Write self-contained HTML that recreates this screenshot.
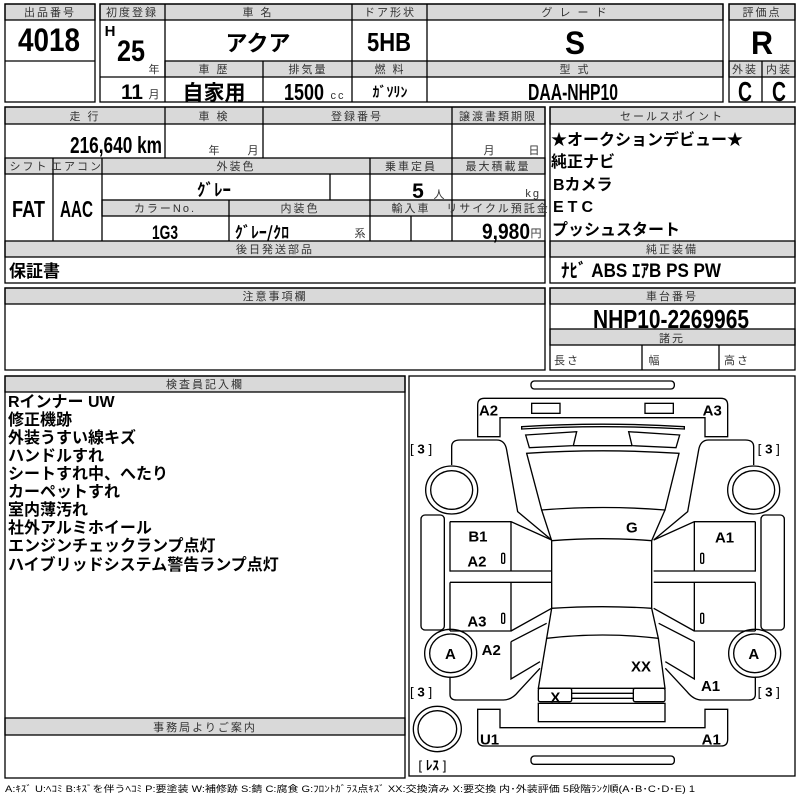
<!DOCTYPE html>
<html><head><meta charset="utf-8"><style>
html,body{margin:0;padding:0;background:#fff;width:800px;height:800px;overflow:hidden}
svg{display:block}
text{font-family:"Liberation Sans","Noto Sans CJK JP",sans-serif;fill:#000}
.h{font-size:11px;text-anchor:middle;letter-spacing:2px;fill:#333}
.b{font-family:"Liberation Sans Narrow","Liberation Sans","Noto Sans CJK JP",sans-serif;font-weight:bold;text-anchor:middle}
.j{font-family:"Noto Sans CJK JP",sans-serif;font-weight:bold}
.g{fill:#d9d9d9}
</style></head><body>
<svg width="800" height="800" viewBox="0 0 800 800" xmlns="http://www.w3.org/2000/svg">
<g stroke="#000" stroke-width="1.3" fill="none">
<rect class="g" x="5" y="4" width="90" height="16"/>
<rect class="g" x="100" y="4" width="623" height="16"/>
<rect class="g" x="165" y="61" width="558" height="16"/>
<rect class="g" x="729" y="4" width="66" height="16"/>
<rect class="g" x="729" y="61" width="66" height="16"/>
<rect class="g" x="5" y="107" width="540" height="17"/>
<rect class="g" x="5" y="158" width="540" height="16"/>
<rect class="g" x="102" y="200" width="443" height="16"/>
<rect class="g" x="5" y="241" width="540" height="16"/>
<rect class="g" x="550" y="107" width="245" height="17"/>
<rect class="g" x="550" y="241" width="245" height="16"/>
<rect class="g" x="5" y="288" width="540" height="16"/>
<rect class="g" x="550" y="288" width="245" height="16"/>
<rect class="g" x="550" y="329" width="245" height="16"/>
<rect class="g" x="5" y="376" width="400" height="16"/>
<rect class="g" x="5" y="718" width="400" height="17"/>
<rect x="5" y="4" width="90" height="98"/>
<line x1="5" y1="61" x2="95" y2="61"/>
<rect x="100" y="4" width="623" height="98"/>
<line x1="165" y1="4" x2="165" y2="102"/>
<line x1="352" y1="4" x2="352" y2="102"/>
<line x1="427" y1="4" x2="427" y2="102"/>
<line x1="263" y1="61" x2="263" y2="102"/>
<line x1="100" y1="77" x2="165" y2="77"/>
<rect x="729" y="4" width="66" height="98"/>
<line x1="762" y1="61" x2="762" y2="102"/>
<rect x="5" y="107" width="540" height="176"/>
<line x1="165" y1="107" x2="165" y2="158"/>
<line x1="263" y1="107" x2="263" y2="158"/>
<line x1="452" y1="107" x2="452" y2="241"/>
<line x1="53" y1="158" x2="53" y2="241"/>
<line x1="102" y1="158" x2="102" y2="241"/>
<line x1="370" y1="158" x2="370" y2="241"/>
<line x1="330" y1="174" x2="330" y2="200"/>
<line x1="229" y1="200" x2="229" y2="241"/>
<line x1="411" y1="216" x2="411" y2="241"/>
<rect x="550" y="107" width="245" height="176"/>
<rect x="5" y="288" width="540" height="82"/>
<rect x="550" y="288" width="245" height="82"/>
<line x1="642" y1="345" x2="642" y2="370"/>
<line x1="719" y1="345" x2="719" y2="370"/>
<rect x="5" y="376" width="400" height="402"/>
<rect x="409" y="376" width="386" height="400"/>
</g>
<text class="h" x="50" y="16">出品番号</text>
<text class="b" x="18" y="51" font-size="32" style="text-anchor:start" textLength="62" lengthAdjust="spacingAndGlyphs">4018</text>
<text class="h" x="132" y="16" letter-spacing="0">初度登録</text>
<text class="b" x="110" y="36" font-size="15">H</text>
<text class="b" x="117" y="61" font-size="30" style="text-anchor:start" textLength="28" lengthAdjust="spacingAndGlyphs">25</text>
<text class="h" x="155" y="73" letter-spacing="0">年</text>
<text class="b" x="121" y="99" font-size="21" style="text-anchor:start" textLength="22" lengthAdjust="spacingAndGlyphs">11</text>
<text class="h" x="155" y="98" letter-spacing="0">月</text>
<text class="h" x="258" y="16">車 名</text>
<text class="b j" x="258" y="51" font-size="22">アクア</text>
<text class="h" x="390" y="16">ドア形状</text>
<text class="b" x="367" y="51" font-size="26" style="text-anchor:start" textLength="44" lengthAdjust="spacingAndGlyphs">5HB</text>
<text class="h" x="575" y="16">グ レ ー ド</text>
<text class="b" x="575" y="54" font-size="32" textLength="20" lengthAdjust="spacingAndGlyphs">S</text>
<text class="h" x="762" y="16" letter-spacing="0">評価点</text>
<text class="b" x="762" y="54" font-size="32" textLength="22" lengthAdjust="spacingAndGlyphs">R</text>
<text class="h" x="214" y="73">車 歴</text>
<text class="h" x="308" y="73">排気量</text>
<text class="h" x="390" y="73">燃 料</text>
<text class="h" x="575" y="73">型 式</text>
<text class="h" x="745" y="73" letter-spacing="0">外装</text>
<text class="h" x="779" y="73" letter-spacing="0">内装</text>
<text class="b j" x="214" y="100" font-size="21">自家用</text>
<text class="b" x="284" y="100" font-size="23" style="text-anchor:start" textLength="40" lengthAdjust="spacingAndGlyphs">1500</text>
<text class="h" x="338" y="99" letter-spacing="0">cc</text>
<text class="b j" x="390" y="97" font-size="14">ｶﾞｿﾘﾝ</text>
<text class="b" x="528" y="100" font-size="23" style="text-anchor:start" textLength="90" lengthAdjust="spacingAndGlyphs">DAA-NHP10</text>
<text class="b" x="745" y="101" font-size="28" textLength="14" lengthAdjust="spacingAndGlyphs">C</text>
<text class="b" x="779" y="101" font-size="28" textLength="14" lengthAdjust="spacingAndGlyphs">C</text>

<text class="h" x="85" y="120">走 行</text>
<text class="h" x="214" y="120">車 検</text>
<text class="h" x="357" y="120">登録番号</text>
<text class="h" x="498" y="120" letter-spacing="0">譲渡書類期限</text>
<text class="b" x="70" y="153" font-size="23" style="text-anchor:start" textLength="92" lengthAdjust="spacingAndGlyphs">216,640 km</text>
<text class="h" x="215" y="154" letter-spacing="0">年</text>
<text class="h" x="254" y="154" letter-spacing="0">月</text>
<text class="h" x="490" y="154" letter-spacing="0">月</text>
<text class="h" x="535" y="154" letter-spacing="0">日</text>
<text class="h" x="29" y="170" letter-spacing="0" font-size="10">シフト</text>
<text class="h" x="77" y="170" letter-spacing="0" font-size="10">エアコン</text>
<text class="h" x="236" y="170">外装色</text>
<text class="h" x="411" y="170" letter-spacing="0">乗車定員</text>
<text class="h" x="498" y="170" letter-spacing="0">最大積載量</text>
<text class="b j" x="214" y="196" font-size="17">ｸﾞﾚｰ</text>
<text class="b" x="418" y="198" font-size="21">5</text>
<text class="h" x="440" y="198" letter-spacing="0">人</text>
<text class="h" x="541" y="197" letter-spacing="0" style="text-anchor:end">kg</text>
<text class="b" x="12" y="217" font-size="23" style="text-anchor:start" textLength="33" lengthAdjust="spacingAndGlyphs">FAT</text>
<text class="b" x="60" y="217" font-size="23" style="text-anchor:start" textLength="33" lengthAdjust="spacingAndGlyphs">AAC</text>
<text class="h" x="165" y="212" letter-spacing="3">カラーNo.</text>
<text class="h" x="300" y="212">内装色</text>
<text class="h" x="411" y="212">輸入車</text>
<text class="h" x="498" y="212" letter-spacing="0" font-size="10">リサイクル預託金</text>
<text class="b" x="152" y="239" font-size="19" style="text-anchor:start" textLength="26" lengthAdjust="spacingAndGlyphs">1G3</text>
<text class="b j" x="262" y="238" font-size="16">ｸﾞﾚｰ/ｸﾛ</text>
<text class="h" x="361" y="237" letter-spacing="0">系</text>
<text class="b" x="482" y="239" font-size="22" style="text-anchor:start" textLength="48" lengthAdjust="spacingAndGlyphs">9,980</text>
<text class="h" x="537" y="237" letter-spacing="0">円</text>
<text class="h" x="275" y="253">後日発送部品</text>
<text class="j" x="9" y="277" font-size="17">保証書</text>
<text class="h" x="672" y="120" letter-spacing="5">セールスポイント</text>
<g class="j" font-size="16">
<text x="551" y="145">★オークションデビュー★</text>
<text x="551" y="167">純正ナビ</text>
<text x="553" y="190">Bカメラ</text>
<text x="553" y="212" letter-spacing="4">ETC</text>
<text x="552" y="235">プッシュスタート</text>
</g>
<text class="h" x="672" y="253" letter-spacing="5">純正装備</text>
<text class="b" x="561" y="277" font-size="19" style="text-anchor:start" textLength="160" lengthAdjust="spacingAndGlyphs">ﾅﾋﾞ  ABS  ｴｱB  PS  PW</text>
<text class="h" x="275" y="300">注意事項欄</text>
<text class="h" x="672" y="300">車台番号</text>
<text class="b" x="593" y="328" font-size="26" style="text-anchor:start" textLength="156" lengthAdjust="spacingAndGlyphs">NHP10-2269965</text>
<text class="h" x="672" y="342">諸元</text>
<text class="h" x="567" y="364" letter-spacing="0">長さ</text>
<text class="h" x="655" y="364" letter-spacing="0">幅</text>
<text class="h" x="737" y="364" letter-spacing="0">高さ</text>
<text class="h" x="205" y="388">検査員記入欄</text>
<g class="j" font-size="16">
<text x="8" y="407">Rインナー UW</text>
<text x="8" y="425">修正機跡</text>
<text x="8" y="443">外装うすい線キズ</text>
<text x="8" y="461">ハンドルすれ</text>
<text x="8" y="479">シートすれ中、へたり</text>
<text x="8" y="497">カーペットすれ</text>
<text x="8" y="515">室内薄汚れ</text>
<text x="8" y="533">社外アルミホイール</text>
<text x="8" y="551">エンジンチェックランプ点灯</text>
<text x="8" y="570">ハイブリッドシステム警告ランプ点灯</text>
</g>
<text class="h" x="205" y="731" letter-spacing="5">事務局よりご案内</text>
<text x="5" y="792" font-size="9" textLength="690" lengthAdjust="spacingAndGlyphs" fill="#333">A:ｷｽﾞ U:ﾍｺﾐ B:ｷｽﾞを伴うﾍｺﾐ P:要塗装 W:補修跡 S:錆 C:腐食 G:ﾌﾛﾝﾄｶﾞﾗｽ点ｷｽﾞ XX:交換済み X:要交換  内･外装評価  5段階ﾗﾝｸ順(A･B･C･D･E) 1</text>

<g transform="translate(405,375) scale(0.33333)">
<g stroke="#000" stroke-width="4" fill="none">
<rect x="378" y="18" width="430" height="24" rx="10"/>
<rect x="378" y="1143" width="430" height="25" rx="10"/>
<path d="M218 185 V90 Q218 70 238 70 H948 Q968 70 968 90 V185 H900 V128 H285 V185 Z"/>
<rect x="380" y="85" width="85" height="30"/>
<rect x="720" y="85" width="85" height="30"/>
<path d="M218 1003 V1093 Q218 1113 238 1113 H948 Q968 1113 968 1093 V1003 H900 V1058 H285 V1003 Z"/>
<path d="M350 155 Q593 140 838 155 L838 162 Q593 148 350 162 Z"/>
<path d="M362 180 L515 170 L505 212 L373 218 Z"/>
<path d="M824 180 L671 170 L681 212 L813 218 Z"/>
<path d="M505 212 L681 212"/>
<path d="M365 235 Q593 220 822 235 L780 405 Q593 390 410 405 Z"/>
<path d="M410 405 L440 497 Q593 485 740 497 L780 405"/>
<path d="M440 497 L440 700 Q593 690 740 700 L740 497"/>
<path d="M440 700 L425 790 Q593 770 760 790 L740 700"/>
<path d="M425 790 L400 940 H780 L760 790"/>
<rect x="400" y="940" width="100" height="40" rx="5"/>
<rect x="685" y="940" width="95" height="40" rx="5"/>
<path d="M500 955 H685 M500 970 H685"/>
<rect x="400" y="985" width="380" height="55"/>
<g id="side">
<path d="M140 270 V215 Q140 195 165 195 H275 Q300 195 305 225 L338 410 L440 495"/>
<path d="M135 440 V590 M135 622 V768"/>
<path d="M135 440 H318 L440 495 M135 588 H440 M135 622 H440 M318 440 V588 M318 622 V768 H135 M318 768 L440 700"/>
<path d="M318 800 L425 745 M318 800 V912 L405 860"/>
<path d="M135 905 V958 Q135 975 155 975 H295 Q320 975 340 950 L405 880"/>
<rect x="48" y="420" width="70" height="345" rx="12"/>
<ellipse cx="140" cy="345" rx="78" ry="72"/>
<ellipse cx="140" cy="345" rx="63" ry="58"/>
<ellipse cx="137" cy="835" rx="78" ry="72"/>
<ellipse cx="137" cy="835" rx="63" ry="58"/>
<rect x="290" y="535" width="9" height="30" rx="4"/>
<rect x="290" y="715" width="9" height="30" rx="4"/>
</g>
<use href="#side" transform="translate(1186,0) scale(-1,1)"/>
<ellipse cx="97" cy="1062" rx="72" ry="68"/>
<ellipse cx="97" cy="1062" rx="58" ry="55"/>
</g>
<g font-size="45" style="font-family:'Liberation Sans Narrow','Liberation Sans',sans-serif;font-weight:bold">
<text x="222" y="122">A2</text>
<text x="893" y="122">A3</text>
<text x="190" y="500">B1</text>
<text x="187" y="575">A2</text>
<text x="187" y="755">A3</text>
<text x="230" y="840">A2</text>
<text x="120" y="852">A</text>
<text x="663" y="472">G</text>
<text x="930" y="502">A1</text>
<text x="1030" y="852">A</text>
<text x="678" y="890">XX</text>
<text x="888" y="948">A1</text>
<text x="436" y="982">X</text>
<text x="225" y="1108">U1</text>
<text x="890" y="1108">A1</text>
</g>
<g font-size="40" style="font-family:'Liberation Sans',sans-serif">
<text x="15" y="235">[ <tspan font-weight="bold">3</tspan> ]</text>
<text x="1058" y="235">[ <tspan font-weight="bold">3</tspan> ]</text>
<text x="15" y="965">[ <tspan font-weight="bold">3</tspan> ]</text>
<text x="1058" y="965">[ <tspan font-weight="bold">3</tspan> ]</text>
<text x="40" y="1185">[ <tspan font-family="Noto Sans CJK JP" font-weight="bold">ﾚｽ</tspan> ]</text>
</g>
</g>
</svg>
</body></html>
